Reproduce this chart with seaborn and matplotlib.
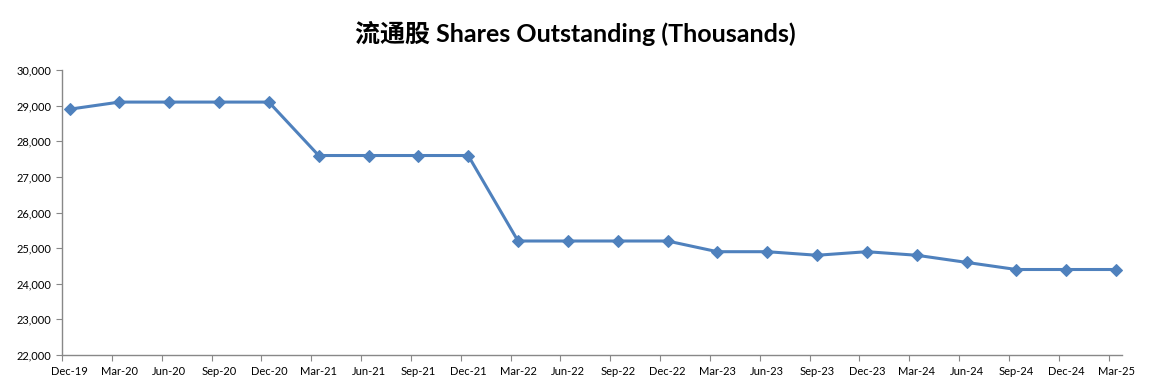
import matplotlib
matplotlib.use("Agg")
import matplotlib.pyplot as plt
import seaborn as sns
import numpy as np
import pandas as pd
from matplotlib.ticker import FuncFormatter, FixedLocator

quarters = ["Dec-19", "Mar-20", "Jun-20", "Sep-20", "Dec-20", "Mar-21", "Jun-21", "Sep-21",
            "Dec-21", "Mar-22", "Jun-22", "Sep-22", "Dec-22", "Mar-23", "Jun-23", "Sep-23",
            "Dec-23", "Mar-24", "Jun-24", "Sep-24", "Dec-24", "Mar-25"]
shares = [28900, 29100, 29100, 29100, 29100, 27600, 27600, 27600,
          27600, 25200, 25200, 25200, 25200, 24900, 24900, 24800,
          24900, 24800, 24600, 24400, 24400, 24400]
y_ticks = [22000, 23000, 24000, 25000, 26000, 27000, 28000, 29000, 30000]

sns.set_theme(style="white")
plt.rcParams['font.family'] = ['Lato', 'Noto Sans CJK SC', 'DejaVu Sans']

df = pd.DataFrame({"idx": np.arange(len(quarters)), "shares": shares})

fig = plt.figure(figsize=(11.51, 3.89), dpi=100)
ax = fig.add_axes([0.0539, 0.0874, 0.9209, 0.7326])

sns.lineplot(data=df, x="idx", y="shares", ax=ax, color="#4F81BD", linewidth=2.2,
             marker="D", markersize=6.5, markeredgecolor="#4F81BD", sort=False)

ax.set_ylim(22000, 30000)
ax.set_xlim(-0.14, 21.12)
ax.yaxis.set_major_locator(FixedLocator(y_ticks))
ax.yaxis.set_major_formatter(FuncFormatter(lambda v, p: f"{int(v):,}"))

n = len(quarters)
ax.set_xticks(np.arange(n) - 0.15)
ax.set_xticklabels([])
ax.set_xticks(np.arange(n), minor=True)
ax.set_xticklabels(quarters, minor=True)
ax.tick_params(axis="x", which="major", length=4, width=0.8, color="#888888", direction="out", bottom=True)
ax.tick_params(axis="x", which="minor", length=0, labelsize=8, pad=8, labelcolor="black")
ax.tick_params(axis="y", length=4, width=0.8, color="#888888", direction="out", left=True,
               labelsize=8, labelcolor="black")

for s in ["top", "right"]:
    ax.spines[s].set_visible(False)
for s in ["left", "bottom"]:
    ax.spines[s].set_color("#888888")
    ax.spines[s].set_linewidth(1.0)

ax.set_xlabel("")
ax.set_ylabel("")
ax.grid(False)

fig.text(0.5, 0.915, "流通股 Shares Outstanding (Thousands)", ha="center", va="center",
         fontsize=18, fontweight="bold", color="black",
         family=['Lato', 'Noto Sans CJK SC', 'DejaVu Sans'])

fig.savefig("out.png", dpi=100)
